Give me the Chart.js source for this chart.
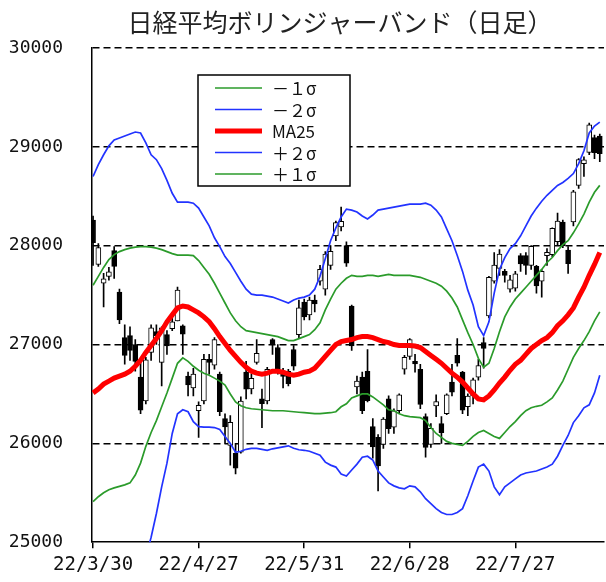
<!DOCTYPE html>
<html>
<head>
<meta charset="utf-8">
<title>日経平均ボリンジャーバンド</title>
<script src="https://cdn.jsdelivr.net/npm/chart.js@4.4.0/dist/chart.umd.min.js"></script>
<style>
    html, body { margin: 0; padding: 0; background: #fff; }
    #wrap { width: 606px; height: 582px; }
</style>
</head>
<body>
<div id="wrap"><canvas id="bbChart" width="606" height="582"></canvas></div>
<script>
const chartTitle = '日経平均ボリンジャーバンド（日足）';

// trading days, one per candle
const dates = [
    '22/3/30','22/3/31','22/4/1','22/4/4','22/4/5','22/4/6','22/4/7','22/4/8','22/4/11','22/4/12',
    '22/4/13','22/4/14','22/4/15','22/4/18','22/4/19','22/4/20','22/4/21','22/4/22','22/4/25','22/4/26',
    '22/4/27','22/4/28','22/5/2','22/5/6','22/5/9','22/5/10','22/5/11','22/5/12','22/5/13','22/5/16',
    '22/5/17','22/5/18','22/5/19','22/5/20','22/5/23','22/5/24','22/5/25','22/5/26','22/5/27','22/5/30',
    '22/5/31','22/6/1','22/6/2','22/6/3','22/6/6','22/6/7','22/6/8','22/6/9','22/6/10','22/6/13',
    '22/6/14','22/6/15','22/6/16','22/6/17','22/6/20','22/6/21','22/6/22','22/6/23','22/6/24','22/6/27',
    '22/6/28','22/6/29','22/6/30','22/7/1','22/7/4','22/7/5','22/7/6','22/7/7','22/7/8','22/7/11',
    '22/7/12','22/7/13','22/7/14','22/7/15','22/7/19','22/7/20','22/7/21','22/7/22','22/7/25','22/7/26',
    '22/7/27','22/7/28','22/7/29','22/8/1','22/8/2','22/8/3','22/8/4','22/8/5','22/8/8','22/8/9',
    '22/8/10','22/8/12','22/8/15','22/8/16','22/8/17','22/8/18','22/8/19'
];
const tickLabels = ['22/3/30', '22/4/27', '22/5/31', '22/6/28', '22/7/27'];
const yTicks = [25000, 26000, 27000, 28000, 29000, 30000];

const openP = [
    28260,27810,27620,27690,27950,27530,27070,27090,27000,26670,
    26430,26920,27130,26820,27100,27160,27240,27190,26680,26560,
    26330,26430,26850,26790,26700,26250,25980,25900,25910,26720,
    26550,26820,26450,26430,27050,26970,26730,26730,26950,27100,
    27430,27300,27450,27640,27560,27800,28100,28190,28000,27390,
    26570,26670,26730,26170,26060,25990,26450,26165,26330,26750,
    26880,26830,26750,26270,25990,26380,26200,26300,26620,26890,
    26720,26370,26480,26670,27020,27290,27640,27770,27740,27560,
    27570,27900,27900,27800,27790,27640,27900,27910,28040,28240,
    27955,28240,28610,28830,28943,29093,29110
];
const highP = [
    28300,28020,27720,27780,27990,27560,27200,27180,27050,26830,
    26870,27200,27200,27180,27140,27290,27580,27200,26720,26760,
    26420,26900,26900,27070,26720,26300,26280,26000,26470,26830,
    26700,27050,26550,26770,27060,27000,26760,26750,26990,27450,
    27460,27480,27500,27800,27940,28000,28250,28390,28040,27400,
    26680,26720,26950,26250,26090,26260,26480,26350,26500,26890,
    27060,26900,26800,26300,26200,26490,26270,26500,26800,27060,
    26730,26500,26660,26850,27070,27690,27930,27960,27760,27700,
    27740,27920,27930,28000,27800,27760,27970,28180,28330,28260,
    27990,28560,28880,28900,29240,29120,29130
];
const lowP = [
    27800,27790,27380,27650,27670,27210,26800,26840,26730,26300,
    26400,26840,27000,26580,26900,27140,27240,26900,26480,26480,
    26060,26400,26700,26750,26280,26000,25780,25690,25900,26450,
    26500,26800,26160,26400,26900,26700,26560,26580,26740,27060,
    27250,27250,27330,27600,27500,27760,28050,28150,27790,26940,
    26500,26300,26420,25850,25520,25950,26100,26100,26300,26700,
    26850,26720,26350,25860,25960,26270,26000,26290,26480,26780,
    26300,26280,26400,26640,26760,27270,27620,27700,27630,27530,
    27540,27740,27710,27760,27520,27480,27800,27890,28000,27980,
    27720,28200,28580,28700,28920,28880,28850
];
const closeP = [
    28030,27980,27665,27736,27790,27250,26890,26940,26830,26335,
    26845,27170,27090,27170,26985,27230,27550,27105,26590,26700,
    26386,26850,26818,27050,26320,26167,26213,25748,26427,26547,
    26659,26911,26402,26750,27000,26748,26677,26604,26781,27370,
    27280,27450,27410,27760,27915,27943,28234,28246,27824,26987,
    26630,26330,26431,25963,25771,26246,26149,26330,26491,26871,
    27049,26804,26393,25960,26153,26423,26107,26490,26517,26812,
    26336,26478,26643,26788,26961,27680,27803,27914,27699,27655,
    27715,27815,27801,27993,27594,27741,27932,28175,28249,27999,
    27819,28546,28871,28868,29222,28942,28930
];

const ma25 = [
    26510,26550,26600,26630,26660,26680,26700,26730,26780,26840,
    26920,26990,27060,27140,27230,27300,27370,27390,27380,27350,
    27320,27280,27230,27160,27080,27010,26940,26880,26820,26770,
    26730,26710,26700,26710,26730,26730,26720,26700,26690,26700,
    26720,26730,26760,26820,26880,26940,27000,27030,27040,27050,
    27070,27080,27080,27070,27050,27030,27020,27000,26990,26990,
    26990,26985,26970,26930,26890,26850,26810,26760,26710,26670,
    26620,26560,26500,26450,26440,26480,26540,26610,26670,26740,
    26800,26840,26900,26960,27000,27040,27070,27120,27190,27240,
    27300,27370,27480,27580,27700,27810,27930
];
const plus2 = [
    28700,28820,28920,29010,29070,29090,29110,29130,29150,29140,
    29040,28920,28870,28780,28660,28530,28440,28440,28440,28430,
    28380,28290,28200,28080,27990,27890,27820,27730,27640,27560,
    27510,27500,27500,27490,27480,27460,27440,27420,27450,27470,
    27480,27500,27560,27690,27870,28050,28180,28290,28370,28360,
    28340,28300,28270,28310,28360,28370,28380,28390,28400,28410,
    28420,28420,28420,28430,28410,28360,28290,28170,28050,27900,
    27740,27550,27400,27180,27090,27230,27520,27760,27880,27970,
    28020,28100,28200,28300,28380,28450,28510,28560,28610,28640,
    28680,28730,28830,28960,29140,29210,29250
];
const plus1 = [
    27600,27690,27780,27860,27910,27940,27960,27975,27985,27990,
    27990,27985,27975,27960,27940,27920,27905,27905,27905,27900,
    27850,27780,27710,27620,27520,27420,27320,27240,27180,27140,
    27130,27120,27110,27100,27090,27080,27060,27040,27040,27060,
    27080,27100,27150,27220,27350,27460,27560,27620,27670,27700,
    27690,27690,27700,27700,27690,27700,27710,27700,27700,27700,
    27700,27690,27680,27660,27640,27620,27590,27540,27470,27380,
    27250,27120,27000,26860,26770,26810,26960,27130,27280,27380,
    27460,27520,27580,27640,27700,27760,27830,27880,27950,28010,
    28050,28130,28220,28320,28440,28540,28610
];
const minus1 = [
    25410,25460,25500,25530,25550,25565,25580,25600,25680,25800,
    25970,26110,26230,26370,26510,26660,26810,26865,26830,26780,
    26740,26710,26690,26660,26630,26590,26500,26420,26380,26360,
    26350,26345,26340,26335,26330,26330,26330,26325,26320,26315,
    26310,26305,26300,26300,26305,26310,26320,26370,26400,26460,
    26480,26500,26500,26470,26430,26390,26340,26330,26300,26280,
    26270,26265,26260,26230,26160,26100,26060,26020,26000,25990,
    25980,26020,26070,26110,26130,26100,26070,26050,26110,26170,
    26220,26280,26330,26360,26375,26385,26420,26460,26540,26630,
    26750,26870,26960,27040,27130,27240,27330
];
const minus2 = [
    24320,24300,24280,24250,24250,24270,24290,24310,24400,24560,
    24850,25050,25290,25560,25800,26100,26300,26340,26320,26220,
    26170,26165,26165,26160,26140,26070,26000,25910,25920,25940,
    25950,25950,25940,25930,25945,25955,25965,25975,25950,25935,
    25930,25920,25900,25880,25810,25780,25760,25690,25670,25730,
    25790,25860,25870,25830,25720,25660,25600,25570,25550,25540,
    25570,25560,25510,25440,25390,25340,25300,25280,25280,25300,
    25340,25470,25620,25760,25790,25720,25560,25480,25560,25600,
    25640,25680,25700,25710,25720,25740,25760,25790,25870,25980,
    26080,26210,26280,26360,26390,26510,26690
];

const GREEN = '#2b9b2b';
const BLUE = '#2233ff';
const RED = '#ff0000';

const toPoints = arr => arr.map((v, i) => ({ x: i, y: v }));

function bandLine(label, values, color, width) {
    return {
        type: 'line',
        label: label,
        data: toPoints(values),
        borderColor: color,
        borderWidth: width,
        pointRadius: 0,
        tension: 0,
        fill: false,
        order: 0
    };
}

// box legend drawn inside the plot area
const boxLegend = {
    id: 'boxLegend',
    afterDatasetsDraw(chart) {
        const ctx = chart.ctx;
        const items = chart.data.datasets.filter(ds => ds.type === 'line');
        ctx.save();
        ctx.fillStyle = '#fff';
        ctx.fillRect(198, 75, 152, 111);
        ctx.strokeStyle = '#000';
        ctx.lineWidth = 1.5;
        ctx.strokeRect(198, 75, 152, 111);
        items.forEach((ds, k) => {
            const y = 88 + k * 21.5;
            ctx.strokeStyle = ds.borderColor;
            ctx.lineWidth = ds.borderWidth;
            ctx.beginPath();
            ctx.moveTo(215, y);
            ctx.lineTo(262, y);
            ctx.stroke();
            ctx.fillStyle = '#111';
            ctx.font = '17px "Noto Sans CJK JP"';
            ctx.textBaseline = 'middle';
            ctx.textAlign = 'left';
            ctx.fillText(ds.label, 272, y + 1);
        });
        ctx.restore();
    }
};

const titleText = {
    id: 'titleText',
    afterDraw(chart) {
        const ctx = chart.ctx;
        ctx.save();
        ctx.fillStyle = '#222';
        ctx.font = '25px "Noto Sans CJK JP"';
        ctx.textAlign = 'center';
        ctx.textBaseline = 'middle';
        ctx.fillText(chartTitle, 340, 22);
        ctx.restore();
    }
};

const ctx = document.getElementById('bbChart').getContext('2d');
const bbChart = new Chart(ctx, {
    type: 'bar',
    data: {
        datasets: [
            bandLine('－１σ', minus1, GREEN, 1.7),
            bandLine('－２σ', minus2, BLUE, 1.7),
            bandLine('MA25', ma25, RED, 5),
            bandLine('＋２σ', plus2, BLUE, 1.7),
            bandLine('＋１σ', plus1, GREEN, 1.7),
            {
                type: 'bar',
                label: 'body',
                data: dates.map((d, i) => ({ x: i, y: [openP[i], closeP[i]] })),
                backgroundColor: closeP.map((c, i) => c >= openP[i] ? '#fff' : '#000'),
                borderColor: '#000',
                borderWidth: 1,
                borderSkipped: false,
                barThickness: 5,
                grouped: false,
                order: 1
            },
            {
                type: 'bar',
                label: 'wick',
                data: dates.map((d, i) => ({ x: i, y: [lowP[i], highP[i]] })),
                backgroundColor: '#000',
                borderWidth: 0,
                barThickness: 1,
                grouped: false,
                order: 2
            }
        ]
    },
    options: {
        responsive: false,
        animation: false,
        devicePixelRatio: 1,
        layout: { padding: { top: 48, right: 2, left: 0, bottom: 0 } },
        plugins: {
            legend: { display: false },
            title: { display: false },
            tooltip: { enabled: false }
        },
        scales: {
            x: {
                type: 'linear',
                min: -0.2,
                max: 96.8,
                offset: false,
                afterBuildTicks: scale => {
                    scale.ticks = tickLabels.map(t => ({ value: dates.indexOf(t) }));
                },
                afterFit: scale => { scale.height = 36; },
                grid: {
                    offset: false,
                    drawOnChartArea: false,
                    drawTicks: true,
                    tickLength: 6,
                    color: '#000',
                    lineWidth: 1.5
                },
                border: { display: true, color: '#000', width: 1.5 },
                ticks: {
                    autoSkip: false,
                    maxRotation: 0,
                    padding: 5,
                    color: '#111',
                    font: { family: 'DejaVu Sans Mono', size: 19 },
                    callback: v => dates[v]
                }
            },
            y: {
                type: 'linear',
                min: 25000,
                max: 30000,
                beginAtZero: false,
                afterBuildTicks: scale => {
                    scale.ticks = yTicks.map(v => ({ value: v }));
                },
                afterFit: scale => { scale.width = 92; },
                grid: {
                    drawTicks: false,
                    color: c => c.tick && c.tick.value === 25000 ? 'rgba(0,0,0,0)' : '#000',
                    lineWidth: 1.6
                },
                border: { display: true, color: '#000', width: 1.5, dash: [7, 4] },
                ticks: {
                    padding: 29,
                    color: '#111',
                    font: { family: 'DejaVu Sans Mono', size: 18 },
                    callback: v => String(v)
                }
            }
        }
    },
    plugins: [boxLegend, titleText]
});
</script>
</body>
</html>
